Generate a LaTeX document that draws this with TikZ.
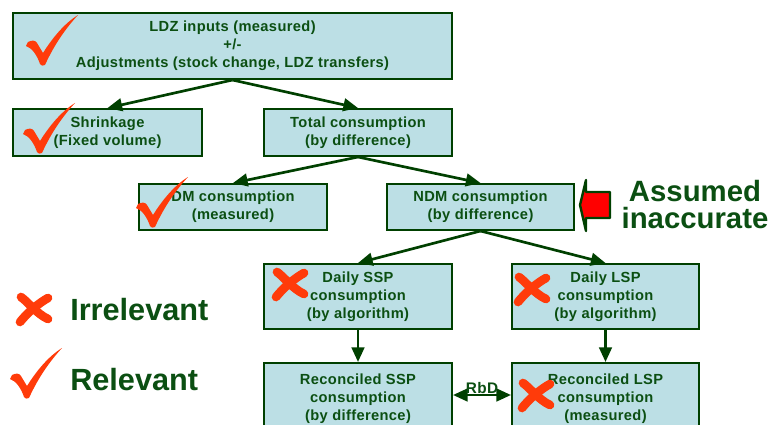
\documentclass[tikz,border=0pt]{standalone}
\usepackage{fontspec}
\setmainfont{Liberation Sans}
\newfontfamily\boxfont{Liberation Sans}[LetterSpace=2.5]
\usetikzlibrary{arrows.meta}
\definecolor{boxfill}{HTML}{BCDFE5}
\definecolor{boxline}{HTML}{004000}
\definecolor{boxtext}{HTML}{0B4F12}
\definecolor{markred}{HTML}{FF3B0A}

\tikzset{
  stepbox/.style={
    draw=boxline,
    fill=boxfill,
    line width=1.5pt,
    text=boxtext,
    align=center,
    font=\boxfont\fontsize{11}{13.5}\selectfont\bfseries,
    minimum width=141pt,
    inner sep=2pt
  },
  flow/.style={draw=boxline, line width=2pt, -{Triangle[length=11pt,width=9.5pt]}},
  bigtext/.style={text=boxtext, font=\fontsize{22}{20.25}\selectfont\bfseries},
  checkmark/.pic={
    \fill[markred] (3,27) .. controls (7,25) and (10,25) .. (12,28) -- (18,38)
      .. controls (28,22) and (40,8) .. (53,0)
      .. controls (42,12) and (30,28) .. (20,50)
      .. controls (18,51) and (16,51) .. (15,49)
      .. controls (12,40) and (7,33) .. (1,31) -- cycle;
  },
  crossmark/.pic={
    \draw[markred, line width=6.5pt, line cap=round] (6,5) .. controls (13,10) and (22,22) .. (33,27);
    \draw[markred, line width=6.5pt, line cap=round] (33,6) .. controls (24,11) and (13,20) .. (5,30);
  }
}

\begin{document}
\begin{tikzpicture}[x=0.75pt, y=-0.75pt]
  \useasboundingbox (0,0) rectangle (773,424);
  \clip (0,0) rectangle (773,424);

  \node[stepbox, minimum width=329.25pt, minimum height=49.5pt] (ldz) at (232.5,46)
    {LDZ inputs (measured)\\+/-\\Adjustments (stock change, LDZ transfers)};
  \node[stepbox, minimum width=141.75pt, minimum height=35.25pt] (shrink) at (107.5,132.5)
    {Shrinkage\\(Fixed volume)};
  \node[stepbox, minimum height=35.25pt] (total) at (358,132.5)
    {Total consumption\\(by difference)};
  \node[stepbox, minimum height=34.5pt] (dm) at (233,207)
    {DM consumption\\(measured)};
  \node[stepbox, minimum width=140.25pt, minimum height=34.5pt] (ndm) at (480.5,207)
    {NDM consumption\\(by difference)};
  \node[stepbox, minimum height=48.75pt] (dssp) at (358,296.5)
    {Daily SSP\\consumption\\(by algorithm)};
  \node[stepbox, minimum width=140.25pt, minimum height=48.75pt] (dlsp) at (605.5,296.5)
    {Daily LSP\\consumption\\(by algorithm)};
  \node[stepbox, minimum height=54pt] (rssp) at (358,399)
    {Reconciled SSP\\consumption\\(by difference)};
  \node[stepbox, minimum width=140.25pt, minimum height=54pt] (rlsp) at (605.5,399)
    {Reconciled LSP\\consumption\\(measured)};

  \draw[flow] (ldz.south) -- (shrink.north);
  \draw[flow] (ldz.south) -- (total.north);
  \draw[flow] (total.south) -- (dm.north);
  \draw[flow] (total.south) -- (ndm.north);
  \draw[flow] (ndm.south) -- (dssp.north);
  \draw[flow] (ndm.south) -- (dlsp.north);
  \draw[flow] (dssp.south) -- (rssp.north);
  \draw[flow] (dlsp.south) -- (rlsp.north);
  \draw[flow, {Triangle[length=11pt,width=9.5pt]}-{Triangle[length=11pt,width=9.5pt]}]
    ([yshift=3pt]rssp.east) -- node[above=-3.5pt, text=boxtext, font=\boxfont\fontsize{11.5}{13.5}\selectfont\bfseries] (rbd) {RbD} ([yshift=3pt]rlsp.west);

  \draw[boxline, line width=1.8pt, line join=round, fill=red]
    (610,192) -- (586,192) -- (586,180) -- (580,205) -- (586,231) -- (586,218) -- (610,218) -- cycle;
  \node[bigtext, align=center] (assumed) at (695,205) {Assumed\\inaccurate};

  \node[bigtext, anchor=base west, inner sep=0pt, font=\fontsize{23}{23}\selectfont\bfseries] (irrel) at (70,320) {Irrelevant};
  \node[bigtext, anchor=base west, inner sep=0pt, font=\fontsize{23}{23}\selectfont\bfseries] (rel) at (70,390) {Relevant};

  \pic at (25,15) {checkmark};
  \pic at (22,103) {checkmark};
  \pic at (135,177) {checkmark};
  \pic at (9,348) {checkmark};
  \pic at (271,267) {crossmark};
  \pic at (513,272) {crossmark};
  \pic at (517,378) {crossmark};
  \pic at (15,292) {crossmark};
\end{tikzpicture}
\end{document}
